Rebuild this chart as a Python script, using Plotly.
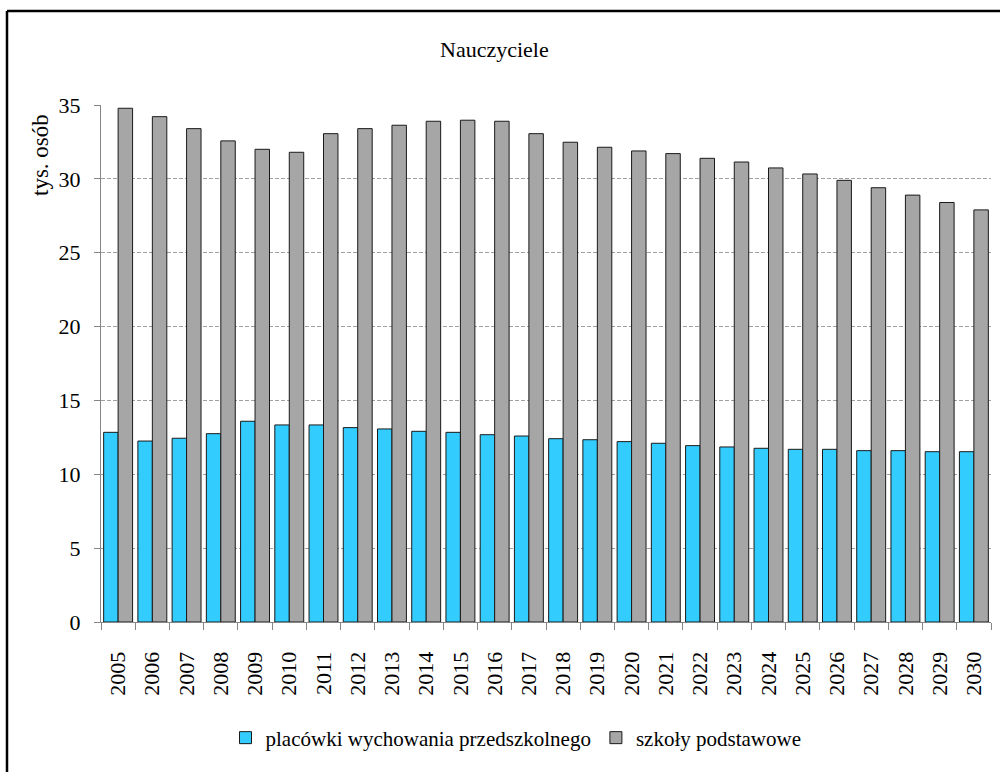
import plotly.graph_objects as go

years = [str(y) for y in range(2005, 2031)]
przedszkola = [12.84, 12.25, 12.44, 12.75, 13.59, 13.34, 13.34, 13.16, 13.07, 12.91,
               12.84, 12.68, 12.59, 12.41, 12.34, 12.21, 12.10, 11.94, 11.85, 11.76,
               11.69, 11.69, 11.60, 11.60, 11.53, 11.53]
podstawowe = [34.78, 34.21, 33.40, 32.57, 32.00, 31.80, 33.06, 33.40, 33.63, 33.90,
              33.97, 33.90, 33.06, 32.48, 32.14, 31.89, 31.71, 31.39, 31.14, 30.74,
              30.33, 29.90, 29.40, 28.90, 28.40, 27.90]
series_names = ["placówki wychowania przedszkolnego", "szkoły podstawowe"]
y_ticks = [0, 5, 10, 15, 20, 25, 30, 35]

FONT = "Liberation Serif, Times New Roman, serif"

# plot area in pixels
L, R, T, B = 101, 991, 105, 622
W, H = 1000, 772

def px_x(p):
    return (p - L) / (R - L)

def px_y(p):
    return (B - p) / (B - T)

fig = go.Figure()
fig.add_trace(go.Bar(x=years, y=przedszkola, name=series_names[0],
                     marker=dict(color="#33CCFF", line=dict(color="#1a1a1a", width=1))))
fig.add_trace(go.Bar(x=years, y=podstawowe, name=series_names[1],
                     marker=dict(color="#A6A6A6", line=dict(color="#1a1a1a", width=1))))

fig.update_layout(
    width=W, height=H,
    margin=dict(l=L, r=W - R, t=T, b=H - B),
    paper_bgcolor="white", plot_bgcolor="white",
    barmode="group", bargap=0.155, bargroupgap=0,
    font=dict(family=FONT, size=20, color="black"),
    showlegend=True,
    legend=dict(orientation="h", x=px_x(516), y=px_y(738), xanchor="center", yanchor="middle",
                font=dict(family=FONT, size=21, color="black"), itemwidth=30,
                traceorder="normal", bgcolor="rgba(0,0,0,0)"),
    xaxis=dict(type="category", tickangle=-90, tickson="boundaries", ticks="outside",
               ticklen=7, tickcolor="#868686", showline=True, linecolor="#868686",
               linewidth=1, showgrid=False, tickfont=dict(family=FONT, size=22),
               ticklabelstandoff=20),
    yaxis=dict(range=[0, 35], tickvals=y_ticks, ticks="outside", ticklen=6,
               tickcolor="#868686", showline=True, linecolor="#868686", linewidth=1,
               showgrid=True, gridcolor="#A0A0A0", griddash="4px,2px", gridwidth=1,
               zeroline=False, tickfont=dict(family=FONT, size=22), ticklabelstandoff=9),
)

fig.add_annotation(text="Nauczyciele", xref="paper", yref="paper", x=px_x(494), y=px_y(50),
                   showarrow=False, xanchor="center", yanchor="middle",
                   font=dict(family=FONT, size=22, color="black"))
fig.add_annotation(text="tys. osób", xref="paper", yref="paper", x=px_x(40), y=px_y(155),
                   showarrow=False, xanchor="center", yanchor="middle", textangle=-90,
                   font=dict(family=FONT, size=23, color="black"))

# frame (left and top edges visible)
fig.add_shape(type="line", xref="paper", yref="paper", x0=px_x(7), x1=px_x(7),
              y0=px_y(11), y1=px_y(800), line=dict(color="black", width=2.5))
fig.add_shape(type="line", xref="paper", yref="paper", x0=px_x(7), x1=px_x(1010),
              y0=px_y(11), y1=px_y(11), line=dict(color="black", width=2.5))

fig.write_html("out.html", config={"displayModeBar": False},
               post_script="document.body.style.margin='0';document.body.style.overflow='hidden';")
